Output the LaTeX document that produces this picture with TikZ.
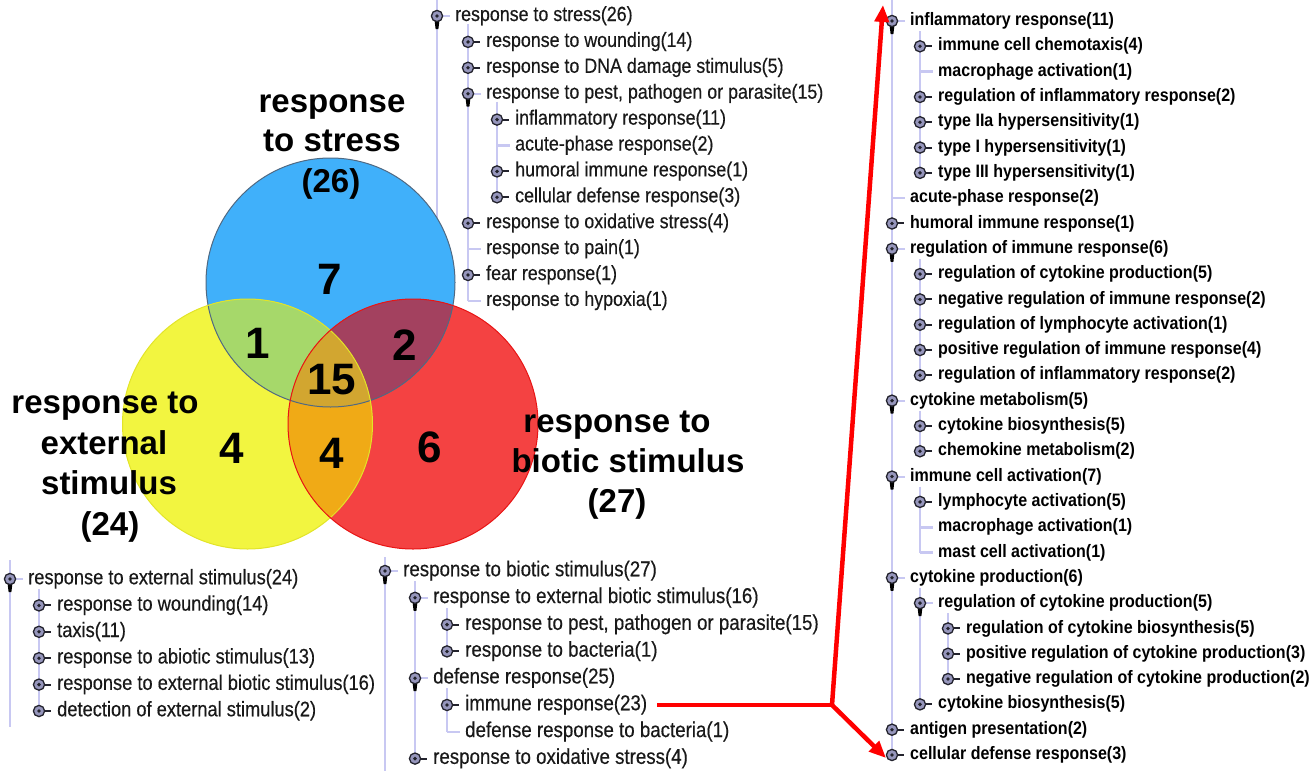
\documentclass[tikz,border=0pt]{standalone}
\usepackage{fontspec}
\setmainfont{Liberation Sans}
\newfontfamily\treefont[FakeStretch=0.87,FakeBold=0.4]{Liberation Sans}
\newfontfamily\rtreefont[FakeStretch=0.89]{Liberation Sans}
\usetikzlibrary{arrows.meta}
\definecolor{cblue}{RGB}{64,176,250}
\definecolor{cyel}{RGB}{242,245,64}
\definecolor{cred}{RGB}{244,66,66}
\definecolor{cgreen}{RGB}{166,216,106}
\definecolor{cmaroon}{RGB}{163,65,95}
\definecolor{corange}{RGB}{240,170,22}
\definecolor{ctan}{RGB}{210,166,48}
\definecolor{oblue}{RGB}{80,105,130}
\definecolor{oyel}{RGB}{226,228,40}
\definecolor{ored}{RGB}{232,20,20}
\definecolor{treeline}{RGB}{200,200,242}
\definecolor{iconfill}{RGB}{150,150,188}
\definecolor{icondark}{RGB}{35,35,45}
\definecolor{treetext}{RGB}{25,25,25}
\definecolor{arrred}{RGB}{255,0,0}
\tikzset{
  tl/.style={draw=treeline, line width=2.6pt},
  mt/.style={font=\treefont\fontsize{20.5}{24}\selectfont, text=treetext, inner sep=0pt, anchor=west, text height=14pt, text depth=4pt},
  lt/.style={font=\treefont\fontsize{21}{24}\selectfont, text=treetext, inner sep=0pt, anchor=west, text height=14.5pt, text depth=4pt},
  bt/.style={font=\treefont\fontsize{21.5}{24}\selectfont, text=treetext, inner sep=0pt, anchor=west, text height=14.5pt, text depth=4pt},
  rt/.style={font=\rtreefont\bfseries\fontsize{18}{20}\selectfont, text=black, inner sep=0pt, anchor=west, text height=12.8pt, text depth=3.6pt},
  vlab/.style={font=\bfseries\fontsize{33}{40}\selectfont, inner sep=0pt, anchor=base},
  vnum/.style={font=\bfseries\fontsize{44}{48}\selectfont, inner sep=0pt},
  rarrow/.style={draw=arrred, line width=4.5pt, line join=round},
  pics/iclosed/.style={code={
    \draw[icondark, line width=2pt] (4,0) -- (12,0);
    \draw[icondark, line width=1.3pt, fill=iconfill] (0,0) circle (5.6);
    \fill[icondark] (0,0) circle (1.9);
  }},
  pics/iopen/.style={code={
    \draw[treeline, line width=2pt] (4,0) -- (13,0);
    \fill[black] (-2.6,3) -- (2.6,3) -- (1.4,13) -- (-1.4,13) -- cycle;
    \draw[icondark, line width=1.3pt, fill=iconfill] (0,0) circle (5.6);
    \fill[icondark] (0,0) circle (1.9);
  }},
  pics/ileaf/.style={code={
    \draw[treeline, line width=2.6pt] (0,0) -- (13,0);
  }},
}
% #1 name, #2 icon x, #3 y, #4 pic, #5 style, #6 text
\newcommand\TI[6]{\pic at (#2,#3) {#4}; \node[#5] (#1) at (#2+18,#3) {#6};}
\def\MY#1{16+25.9*#1}
\def\LY#1{579+26.4*#1}
\def\BY#1{571+26.8*#1}
\def\RY#1{21+25.31*#1}
\begin{document}
\begin{tikzpicture}[x=1pt,y=-1pt]
\useasboundingbox (0,0) rectangle (1312,771);
% ---------- tree lines ----------
% middle tree
\draw[tl] (437,0) -- (437,330);
\draw[tl] (468,{\MY{0}+8}) -- (468,{\MY{11}});
\draw[tl] (497,{\MY{3}+8}) -- (497,{\MY{7}});
% left tree
\draw[tl] (10,560) -- (10,727);
\draw[tl] (39,{\LY{0}+10}) -- (39,{\LY{5}});
% bottom tree
\draw[tl] (385,557) -- (385,771);
\draw[tl] (415,{\BY{0}+10}) -- (415,{\BY{7}});
\draw[tl] (447,{\BY{1}+10}) -- (447,{\BY{3}});
\draw[tl] (447,{\BY{4}+10}) -- (447,{\BY{6}});
% right tree
\draw[tl] (892,0) -- (892,{\RY{29}});
\draw[tl] (920,{\RY{0}+10}) -- (920,{\RY{6}});
\draw[tl] (920,{\RY{9}+10}) -- (920,{\RY{14}});
\draw[tl] (920,{\RY{15}+10}) -- (920,{\RY{17}});
\draw[tl] (920,{\RY{18}+10}) -- (920,{\RY{21}});
\draw[tl] (920,{\RY{22}+10}) -- (920,{\RY{27}});
\draw[tl] (948,{\RY{23}+10}) -- (948,{\RY{26}});
% ---------- Venn ----------
\coordinate (cb) at (330.5,282.5);
\coordinate (cy) at (247.5,424);
\coordinate (cr) at (413,424);
\fill[cblue] (cb) circle (124.5);
\fill[cyel] (cy) circle (125);
\fill[cred] (cr) circle (125);
\begin{scope}\clip (cb) circle (124.5); \fill[cgreen] (cy) circle (125);\end{scope}
\begin{scope}\clip (cb) circle (124.5); \fill[cmaroon] (cr) circle (125);\end{scope}
\begin{scope}\clip (cy) circle (125); \fill[corange] (cr) circle (125);\end{scope}
\begin{scope}\clip (cb) circle (124.5); \clip (cy) circle (125); \fill[ctan] (cr) circle (125);\end{scope}
\draw[oblue, line width=1pt] (cb) circle (124.5);
\draw[oyel, line width=1pt] (cy) circle (125);
\draw[ored, line width=1pt] (cr) circle (125);
% numbers
\node[vnum] (n7) at (330,279) {7};
\node[vnum] (n1) at (258,343) {1};
\node[vnum] (n2) at (405,345) {2};
\node[vnum] (n15) at (332,380) {15};
\node[vnum] (n4a) at (232,448) {4};
\node[vnum] (n4b) at (332,453) {4};
\node[vnum] (n6) at (430,447) {6};
% labels
\node[vlab] (ls1) at (332,112) {response};
\node[vlab] (ls2) at (332,151) {to stress};
\node[vlab] (ls3) at (331,192) {(26)};
\node[vlab] (le1) at (105,413) {response to};
\node[vlab] (le2) at (104,454) {external};
\node[vlab] (le3) at (109,494) {stimulus};
\node[vlab] (le4) at (110,535) {(24)};
\node[vlab] (lb1) at (617,432) {response to};
\node[vlab] (lb2) at (628,472) {biotic stimulus};
\node[vlab] (lb3) at (617,512) {(27)};
% ---------- middle tree ----------
\TI{m0}{437}{\MY{0}}{iopen}{mt}{response to stress(26)}
\TI{m1}{468}{\MY{1}}{iclosed}{mt}{response to wounding(14)}
\TI{m2}{468}{\MY{2}}{iclosed}{mt}{response to DNA damage stimulus(5)}
\TI{m3}{468}{\MY{3}}{iopen}{mt}{response to pest, pathogen or parasite(15)}
\TI{m4}{497}{\MY{4}}{iclosed}{mt}{inflammatory response(11)}
\TI{m5}{497}{\MY{5}}{ileaf}{mt}{acute-phase response(2)}
\TI{m6}{497}{\MY{6}}{iclosed}{mt}{humoral immune response(1)}
\TI{m7}{497}{\MY{7}}{iclosed}{mt}{cellular defense response(3)}
\TI{m8}{468}{\MY{8}}{iclosed}{mt}{response to oxidative stress(4)}
\TI{m9}{468}{\MY{9}}{ileaf}{mt}{response to pain(1)}
\TI{m10}{468}{\MY{10}}{iclosed}{mt}{fear response(1)}
\TI{m11}{468}{\MY{11}}{ileaf}{mt}{response to hypoxia(1)}
% ---------- left tree ----------
\TI{l0}{10}{\LY{0}}{iopen}{lt}{response to external stimulus(24)}
\TI{l1}{39}{\LY{1}}{iclosed}{lt}{response to wounding(14)}
\TI{l2}{39}{\LY{2}}{iclosed}{lt}{taxis(11)}
\TI{l3}{39}{\LY{3}}{iclosed}{lt}{response to abiotic stimulus(13)}
\TI{l4}{39}{\LY{4}}{iclosed}{lt}{response to external biotic stimulus(16)}
\TI{l5}{39}{\LY{5}}{iclosed}{lt}{detection of external stimulus(2)}
% ---------- bottom tree ----------
\TI{b0}{385}{\BY{0}}{iopen}{bt}{response to biotic stimulus(27)}
\TI{b1}{415}{\BY{1}}{iopen}{bt}{response to external biotic stimulus(16)}
\TI{b2}{447}{\BY{2}}{iclosed}{bt}{response to pest, pathogen or parasite(15)}
\TI{b3}{447}{\BY{3}}{iclosed}{bt}{response to bacteria(1)}
\TI{b4}{415}{\BY{4}}{iopen}{bt}{defense response(25)}
\TI{b5}{447}{\BY{5}}{iclosed}{bt}{immune response(23)}
\TI{b6}{447}{\BY{6}}{ileaf}{bt}{defense response to bacteria(1)}
\TI{b7}{415}{\BY{7}}{iclosed}{bt}{response to oxidative stress(4)}
% ---------- right tree ----------
\TI{r0}{892}{\RY{0}}{iopen}{rt}{inflammatory response(11)}
\TI{r1}{920}{\RY{1}}{iclosed}{rt}{immune cell chemotaxis(4)}
\TI{r2}{920}{\RY{2}}{ileaf}{rt}{macrophage activation(1)}
\TI{r3}{920}{\RY{3}}{iclosed}{rt}{regulation of inflammatory response(2)}
\TI{r4}{920}{\RY{4}}{iclosed}{rt}{type IIa hypersensitivity(1)}
\TI{r5}{920}{\RY{5}}{iclosed}{rt}{type I hypersensitivity(1)}
\TI{r6}{920}{\RY{6}}{iclosed}{rt}{type III hypersensitivity(1)}
\TI{r7}{892}{\RY{7}}{ileaf}{rt}{acute-phase response(2)}
\TI{r8}{892}{\RY{8}}{iclosed}{rt}{humoral immune response(1)}
\TI{r9}{892}{\RY{9}}{iopen}{rt}{regulation of immune response(6)}
\TI{r10}{920}{\RY{10}}{iclosed}{rt}{regulation of cytokine production(5)}
\TI{r11}{920}{\RY{11}}{iclosed}{rt}{negative regulation of immune response(2)}
\TI{r12}{920}{\RY{12}}{iclosed}{rt}{regulation of lymphocyte activation(1)}
\TI{r13}{920}{\RY{13}}{iclosed}{rt}{positive regulation of immune response(4)}
\TI{r14}{920}{\RY{14}}{iclosed}{rt}{regulation of inflammatory response(2)}
\TI{r15}{892}{\RY{15}}{iopen}{rt}{cytokine metabolism(5)}
\TI{r16}{920}{\RY{16}}{iclosed}{rt}{cytokine biosynthesis(5)}
\TI{r17}{920}{\RY{17}}{iclosed}{rt}{chemokine metabolism(2)}
\TI{r18}{892}{\RY{18}}{iopen}{rt}{immune cell activation(7)}
\TI{r19}{920}{\RY{19}}{iclosed}{rt}{lymphocyte activation(5)}
\TI{r20}{920}{\RY{20}}{ileaf}{rt}{macrophage activation(1)}
\TI{r21}{920}{\RY{21}}{ileaf}{rt}{mast cell activation(1)}
\TI{r22}{892}{\RY{22}}{iopen}{rt}{cytokine production(6)}
\TI{r23}{920}{\RY{23}}{iopen}{rt}{regulation of cytokine production(5)}
\TI{r24}{948}{\RY{24}}{iclosed}{rt}{regulation of cytokine biosynthesis(5)}
\TI{r25}{948}{\RY{25}}{iclosed}{rt}{positive regulation of cytokine production(3)}
\TI{r26}{948}{\RY{26}}{iclosed}{rt}{negative regulation of cytokine production(2)}
\TI{r27}{920}{\RY{27}}{iclosed}{rt}{cytokine biosynthesis(5)}
\TI{r28}{892}{\RY{28}}{iclosed}{rt}{antigen presentation(2)}
\TI{r29}{892}{\RY{29}}{iclosed}{rt}{cellular defense response(3)}
% ---------- red arrows ----------
\coordinate (junc) at (832,705);
\coordinate (uptip) at (883,5);
\coordinate (dntip) at (886,758);
\draw[rarrow] (b5.east) ++(10,0) -- (junc);
\draw[rarrow, -{Triangle[length=17pt,width=14pt]}] (junc) -- (uptip);
\draw[rarrow, -{Triangle[length=17pt,width=14pt]}] (junc) -- (dntip);
\end{tikzpicture}
\end{document}
